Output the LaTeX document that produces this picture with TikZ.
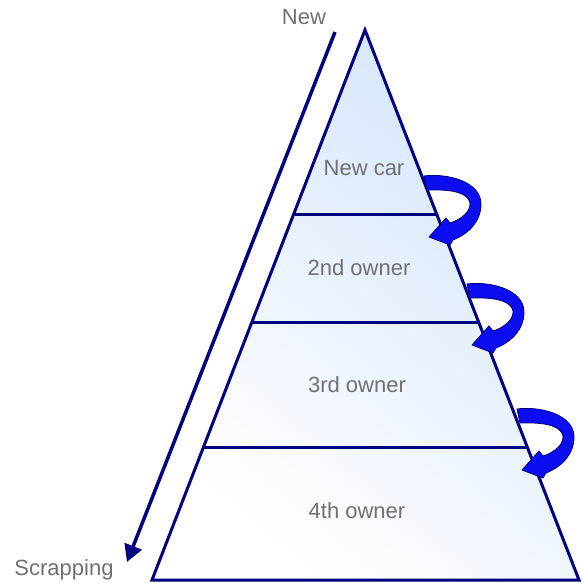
\documentclass[tikz,border=0pt]{standalone}
\usepackage{fontspec}
\setmainfont{Liberation Sans}
\usetikzlibrary{arrows.meta,calc}
\definecolor{navy}{RGB}{0,0,128}
\definecolor{turnblue}{RGB}{12,12,240}
\definecolor{tierblue}{RGB}{212,229,251}
\definecolor{labelgray}{RGB}{112,112,112}

\begin{document}
\begin{tikzpicture}[x=1pt,y=-1pt,
  every node/.style={font=\fontsize{22}{26}\selectfont, text=labelgray},
  tierline/.style={navy, line width=3pt},
  turnarrow/.style={fill=turnblue, draw=navy, line width=0.8pt, line join=round}]
\useasboundingbox (0,0) rectangle (581,583);
% pyramid
\coordinate (apex) at (365,30);
\coordinate (bl) at (152,580);
\coordinate (br) at (579,580);
\shade[top color=tierblue, bottom color=white, shading angle=-40] (apex) -- (bl) -- (br) -- cycle;
\foreach \t in {0.336,0.532,0.759}
  \draw[tierline] ($(apex)!\t!(bl)$) -- ($(apex)!\t!(br)$);
\draw[tierline, line join=miter] (apex) -- (bl) -- (br) -- cycle;
% tier labels
\node (newcar) at (364,168) {New car};
\node (second) at (359,268) {2nd owner};
\node (third) at (357,385) {3rd owner};
\node (fourth) at (357,511) {4th owner};
% age axis
\node (new) at (304,17) {New};
\node (scrap) at (64,570) {Scrapping};
\coordinate (agestart) at (335,32);
\coordinate (ageend) at (127,562);
\draw[navy, line width=3.5pt, -{Triangle[length=17pt,width=18pt]}] (agestart) -- (ageend);
% hand-over arrows
\foreach \x/\y in {424/176, 467/284, 517/409}
  \filldraw[turnarrow, shift={(\x,\y)}] (0,0) .. controls (22,-3) and (57,5) .. (57,28)
    .. controls (57,46) and (44,58) .. (29,64) -- (26,69) -- (5,61) -- (22,42) -- (26,47)
    .. controls (36,44) and (47,36) .. (46,27) .. controls (44,18) and (32,13) .. (3,14) -- cycle;
\end{tikzpicture}
\end{document}
